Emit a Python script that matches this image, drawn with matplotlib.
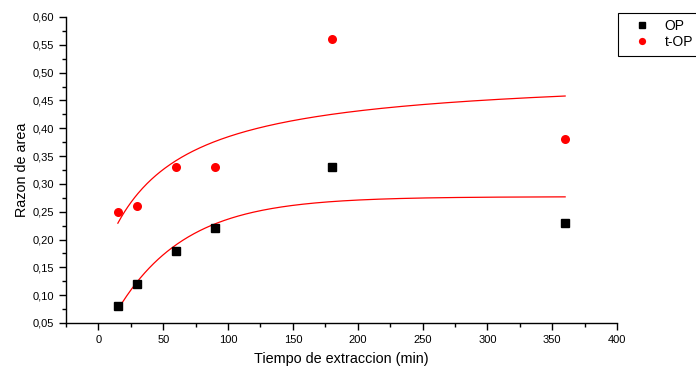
import numpy as np
import matplotlib
matplotlib.use("Agg")
import matplotlib.pyplot as plt
from matplotlib.ticker import MultipleLocator, FuncFormatter

plt.rcParams['font.family'] = ['Liberation Sans', 'DejaVu Sans']

# Data
time_min = [15, 30, 60, 90, 180, 360]
op_vals = [0.08, 0.12, 0.18, 0.22, 0.33, 0.23]
top_vals = [0.25, 0.26, 0.33, 0.33, 0.56, 0.38]

# Fitted model parameters
# OP: y = A - B*exp(-x/t)
op_A, op_B, op_t = 0.277, 0.270, 52.6
# t-OP: y = A - B/(x + K)
top_A, top_B, top_K = 0.4997, 17.02, 47.97
fit_range = (15, 360)

fig = plt.figure(figsize=(6.96, 3.70), dpi=100)
ax = fig.add_axes([66/696, 1-323/370, (617-66)/696, (323-17)/370])

xf = np.linspace(fit_range[0], fit_range[1], 400)
ax.plot(xf, op_A - op_B*np.exp(-xf/op_t), color='#ff0000', lw=0.9, zorder=2)
ax.plot(xf, top_A - top_B/(xf + top_K), color='#ff0000', lw=0.9, zorder=2)

ax.plot(time_min, op_vals, 's', color='black', ms=5.3, label='OP', zorder=3)
ax.plot(time_min, top_vals, 'o', color='#ff0000', ms=6.5, mec='none', label='t-OP', zorder=3)

ax.set_xlim(-25, 400)
ax.set_ylim(0.05, 0.60)
ax.xaxis.set_major_locator(MultipleLocator(50))
ax.xaxis.set_minor_locator(MultipleLocator(25))
ax.yaxis.set_major_locator(MultipleLocator(0.05))
ax.yaxis.set_minor_locator(MultipleLocator(0.025))
ax.yaxis.set_major_formatter(FuncFormatter(lambda v, p: f"{v:.2f}".replace('.', ',')))

for s in ['top', 'right']:
    ax.spines[s].set_visible(False)
for s in ['left', 'bottom']:
    ax.spines[s].set_linewidth(1.0)
ax.tick_params(which='major', direction='out', length=5, width=1, labelsize=8)
ax.tick_params(which='minor', direction='out', length=3, width=1)

ax.set_xlabel('Tiempo de extraccion (min)', fontsize=10.4, labelpad=5)
ax.set_ylabel('Razon de area', fontsize=10.4, labelpad=3)

leg = fig.legend(loc='upper left', bbox_to_anchor=(618/696, 1-13/370), fontsize=10,
                 frameon=True, fancybox=False, edgecolor='black', framealpha=1,
                 borderpad=0.45, handletextpad=0.3, labelspacing=0.15, handlelength=2.6,
                 markerscale=0.8, borderaxespad=0)
leg.get_frame().set_linewidth(0.8)

fig.savefig('out.png', dpi=100)
